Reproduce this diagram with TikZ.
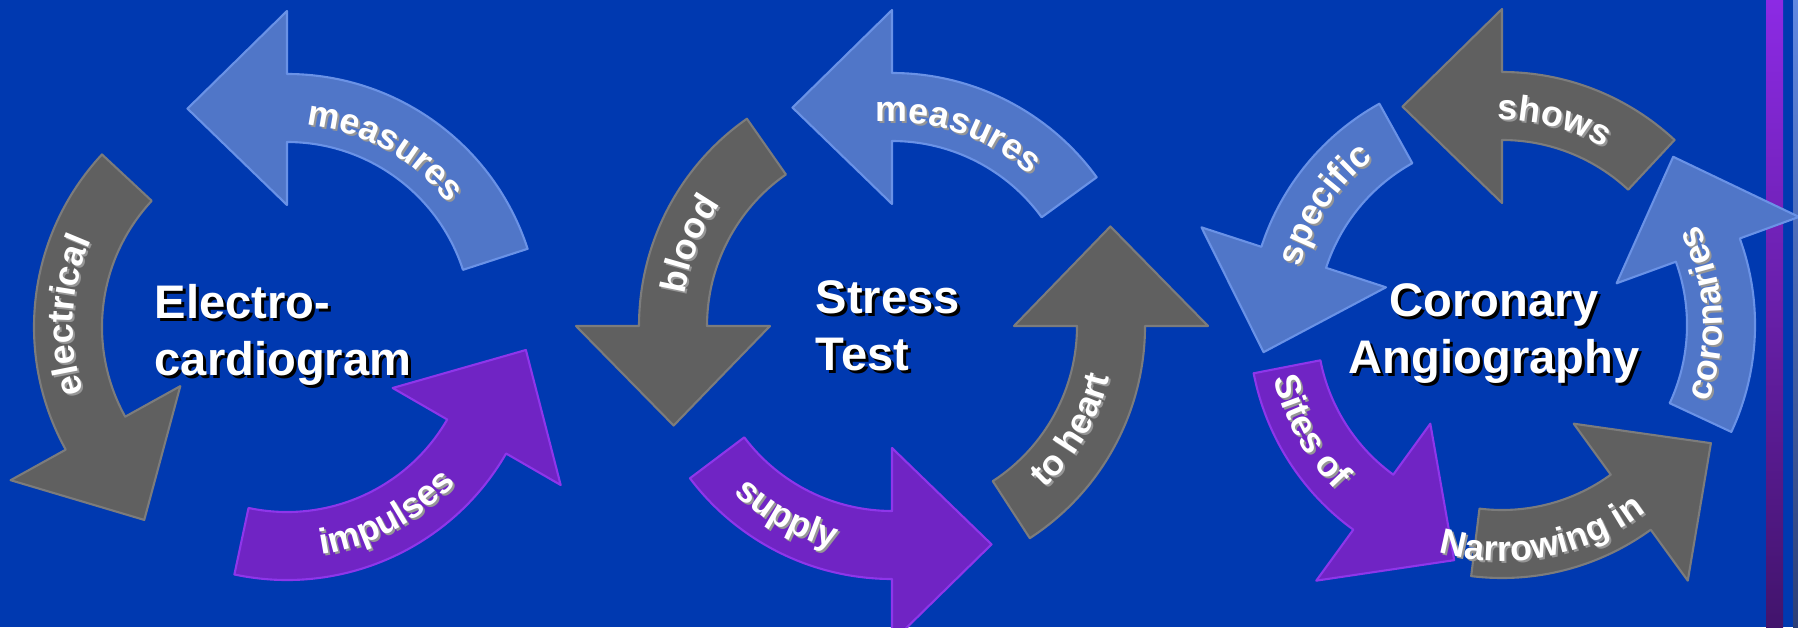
\documentclass[tikz,border=0pt]{standalone}
\usepackage{fontspec}
\setmainfont{Liberation Sans}
\usetikzlibrary{decorations.text}

\definecolor{slidebg}{RGB}{0,57,176}
\definecolor{arrowblue}{RGB}{80,118,200}
\definecolor{edgeblue}{RGB}{106,146,230}
\definecolor{arrowgray}{RGB}{96,96,96}
\definecolor{edgegray}{RGB}{124,124,124}
\definecolor{arrowpurple}{RGB}{112,36,196}
\definecolor{edgepurple}{RGB}{142,54,234}
\definecolor{labelshade}{RGB}{150,150,150}
\definecolor{stripviolet}{RGB}{140,42,228}
\definecolor{stripdark}{RGB}{66,20,108}
\definecolor{striplight}{RGB}{96,136,226}
\definecolor{stripgrey}{RGB}{44,62,118}

\newcommand\titlefont{\bfseries\fontsize{13.4}{16.2}\selectfont}
\newcommand\labelfont{\bfseries\fontsize{10.2}{12}\selectfont}

% ring of the cycle arrows, in px
\newcommand\rin{185}
\newcommand\rout{253}

% #1 centre, #2 tail angle, #3 angle of the head base, #4 blue/gray/purple
\newcommand\cyclearrow[4]{%
  \begin{scope}[shift={#1}]
    \filldraw[fill=arrow#4, draw=edge#4, line width=0.6pt, line join=round]
      (#2:\rout) arc[start angle=#2, end angle=#3, radius=\rout]
      -- (#3:316) -- ({#3+24.5}:240) -- (#3:122)
      -- (#3:\rin) arc[start angle=#3, end angle=#2, radius=\rin] -- cycle;
  \end{scope}}

% #1 centre, #2 radius of the baseline, #3 from, #4 to, #5 text
\newcommand\arclabel[5]{%
  \begin{scope}[shift={#1}]
    \path[shift={(2,-2)}, decorate, decoration={text along path, text align=center,
        text color=labelshade, text={|\labelfont|#5}}]
      (#3:#2) arc[start angle=#3, end angle=#4, radius=#2];
    \path[decorate, decoration={text along path, text align=center,
        text color=white, text={|\labelfont|#5}}]
      (#3:#2) arc[start angle=#3, end angle=#4, radius=#2];
  \end{scope}}

\begin{document}
\begin{tikzpicture}[x=0.01cm, y=0.01cm,
    title/.style={inner sep=0pt, font=\titlefont}]

  \useasboundingbox (0,0) rectangle (1798,627);
  \clip (0,0) rectangle (1798,627);
  \fill[slidebg] (0,0) rectangle (1798,627);

  % strips on the right edge
  \shade[top color=stripviolet, bottom color=stripdark] (1766,0) rectangle (1783,627);
  \shade[top color=striplight, bottom color=stripgrey] (1793,0) rectangle (1798,627);

  % centres of the three cycles
  \coordinate (ecg-c) at (287,300);
  \coordinate (stress-c) at (892,301);
  \coordinate (angio-c) at (1502,302);

  % Electrocardiogram
  \cyclearrow{(ecg-c)}{18}{90}{blue}
  \cyclearrow{(ecg-c)}{137}{209}{gray}
  \cyclearrow{(ecg-c)}{258}{330}{purple}
  \arclabel{(ecg-c)}{203}{121}{1}{measures}
  \arclabel{(ecg-c)}{214}{237}{117}{electrical}
  \arclabel{(ecg-c)}{230}{238}{358}{impulses}

  % Stress test
  \cyclearrow{(stress-c)}{36}{90}{blue}
  \cyclearrow{(stress-c)}{125}{180}{gray}
  \cyclearrow{(stress-c)}{217}{270}{purple}
  \cyclearrow{(stress-c)}{303}{360}{gray}
  \arclabel{(stress-c)}{204}{131}{11}{measures}
  \arclabel{(stress-c)}{210}{218}{98}{blood}
  \arclabel{(stress-c)}{230}{181}{301}{supply}
  \arclabel{(stress-c)}{223}{270}{390}{to heart}

  % Coronary angiography
  \cyclearrow{(angio-c)}{47}{90}{gray}
  \cyclearrow{(angio-c)}{119}{162}{blue}
  \cyclearrow{(angio-c)}{191}{234}{purple}
  \cyclearrow{(angio-c)}{263}{306}{gray}
  \cyclearrow{(angio-c)}{-25}{20}{blue}
  \arclabel{(angio-c)}{205}{135.6}{15.6}{shows}
  \arclabel{(angio-c)}{210}{206}{86}{specific}
  \arclabel{(angio-c)}{234}{149}{269}{Sites of}
  \arclabel{(angio-c)}{236}{221}{341}{Narrowing in}
  \arclabel{(angio-c)}{220}{-56.6}{63.4}{coronaries}

  % titles in the middle, each with its shadow
  \node[title, align=left, anchor=north west, text=black] (ecg-shade) at (157,340) {Electro-\\cardiogram};
  \node[title, align=left, anchor=north west, text=white] (ecg) at (154,343) {Electro-\\cardiogram};
  \node[title, align=left, anchor=north west, text=black] (stress-shade) at (818,344) {Stress\\Test};
  \node[title, align=left, anchor=north west, text=white] (stress) at (815,347) {Stress\\Test};
  \node[title, align=center, anchor=north, text=black] (angio-shade) at (1497,341) {Coronary\\Angiography};
  \node[title, align=center, anchor=north, text=white] (angio) at (1494,344) {Coronary\\Angiography};

\end{tikzpicture}
\end{document}
